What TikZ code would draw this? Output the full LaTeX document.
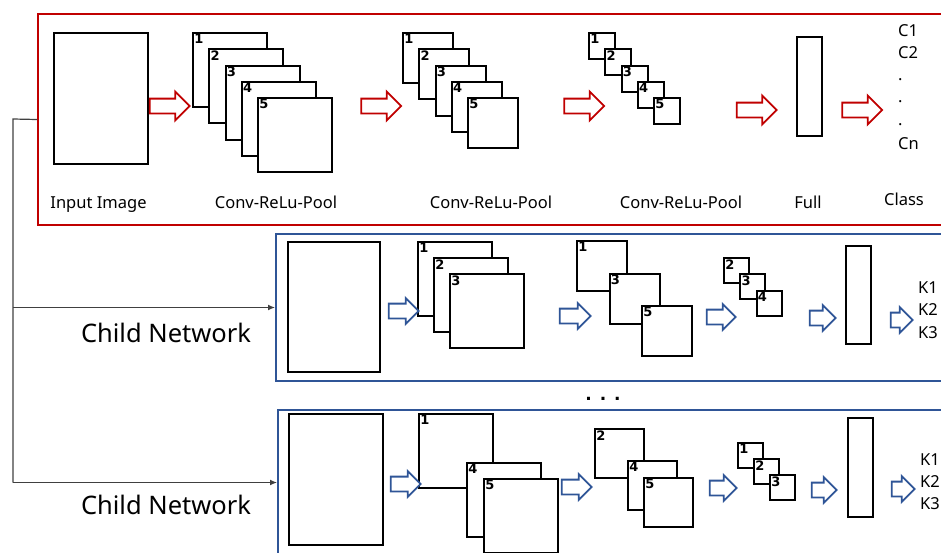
\documentclass[tikz,border=0pt]{standalone}
\usepackage{fontspec}
\setmainfont{Noto Sans}
\newfontfamily\numfont{DejaVu Sans}
\usetikzlibrary{shapes.arrows,arrows.meta}
\definecolor{netred}{RGB}{192,0,0}
\definecolor{netblue}{RGB}{47,85,151}
\definecolor{linkgray}{RGB}{64,64,64}
\newcommand{\fmfont}{\numfont\bfseries\fontsize{13}{13}\selectfont}
\begin{document}
\begin{tikzpicture}[x=1pt,y=-1pt,
	panel/.style={draw=#1, line width=2pt, rectangle, anchor=north west, inner sep=0pt},
	inimg/.style={draw, line width=2pt, rectangle, anchor=north west, inner sep=0pt, minimum width=94pt, minimum height=131pt},
	fullvec/.style={draw, line width=2pt, rectangle, anchor=north west, inner sep=0pt, minimum width=25pt, minimum height=99pt},
	fmnum/.style={anchor=north west, inner sep=2.2pt},
	fmap/.style 2 args={draw, fill=white, line width=2pt, rectangle, anchor=north west, inner sep=0pt, minimum size=#1, label={[fmnum]north west:\fmfont #2}},
	redarrow/.style={single arrow, draw=netred, fill=white, line width=1.8pt, inner xsep=0pt, inner ysep=6.5pt, minimum height=40pt, minimum width=28pt, single arrow head extend=7pt},
	bluearrow/.style={single arrow, draw=netblue, fill=white, line width=1.8pt, inner xsep=0pt, inner ysep=6.5pt, minimum height=#1, minimum width=24pt, single arrow head extend=5.5pt},
	lbl/.style={inner sep=0pt, font=\fontsize{16.5}{20}\selectfont},
	bigl/.style={inner sep=0pt, font=\fontsize{25.5}{30}\selectfont},
	link/.style={draw=linkgray, line width=1.2pt}]
	\useasboundingbox (0,0) rectangle (941,552);
	\clip (0,0) rectangle (941,552);

	% panels
	\node[panel=netred, minimum width=960pt, minimum height=211pt] (main) at (37,13) {};
	\node[panel=netblue, minimum width=720pt, minimum height=147pt] (child1) at (275,233) {};
	\node[panel=netblue, minimum width=720pt, minimum height=145pt] (child2) at (277,409) {};

	% parent network
	\node[inimg] (img) at (53,32) {};
	\foreach \i in {1,...,5}
		\node[fmap={74pt}{\i}] (pa\i) at ({192+16.25*(\i-1)},{32+16.25*(\i-1)}) {};
	\foreach \i in {1,...,5}
		\node[fmap={50pt}{\i}] (pb\i) at ({402+16.25*(\i-1)},{32+16.25*(\i-1)}) {};
	\foreach \i in {1,...,5}
		\node[fmap={26pt}{\i}] (pc\i) at ({588+16.25*(\i-1)},{32+16.25*(\i-1)}) {};
	\node[fullvec] (full) at (796,36) {};
	\node[redarrow] (ra1) at (166,106) {};
	\node[redarrow] (ra2) at (377.5,106) {};
	\node[redarrow] (ra3) at (580.5,106) {};
	\node[redarrow] (ra4) at (753,110) {};
	\node[redarrow] (ra5) at (858.5,110) {};
	\foreach \t/\yy [count=\k] in {C1/36, C2/58, ./80.5, ./102.5, ./125.5, Cn/149}
		\node[lbl, anchor=base west] (cls\k) at (898,\yy) {\t};
	\node[lbl, anchor=base] (limg) at (98.5,208) {Input Image};
	\node[lbl, anchor=base] (lpa) at (276,208) {Conv-ReLu-Pool};
	\node[lbl, anchor=base] (lpb) at (491,208) {Conv-ReLu-Pool};
	\node[lbl, anchor=base] (lpc) at (681,208) {Conv-ReLu-Pool};
	\node[lbl, anchor=base] (lfull) at (808,208) {Full};
	\node[lbl, anchor=base] (lcls) at (904,205) {Class};

	% first child
	\node[inimg, minimum width=92pt, minimum height=130pt] (img1) at (287,241) {};
	\foreach \i/\n in {0/1, 1/2, 2/3}
		\node[fmap={74pt}{\n}] (qa\n) at ({417+16*\i},{241+16*\i}) {};
	\foreach \i/\n in {0/1, 1/3, 2/5}
		\node[fmap={50pt}{\n}] (qb\n) at ({576+32.5*\i},{240+32.5*\i}) {};
	\foreach \i/\n in {0/2, 1/3, 2/4}
		\node[fmap={25pt}{\n}] (qc\n) at ({723+16.25*\i},{257+16.25*\i}) {};
	\node[fullvec, minimum height=98pt] (full1) at (845,245) {};
	\node[bluearrow=30pt] (ba1) at (400,311) {};
	\node[bluearrow=31pt] (ba2) at (571.5,316) {};
	\node[bluearrow=29pt] (ba3) at (717.5,317) {};
	\node[bluearrow=26pt] (ba4) at (819,318) {};
	\node[bluearrow=22pt] (ba5) at (898,320) {};
	\node[lbl, anchor=base west] (k11) at (918,293) {K1};
	\node[lbl, anchor=base west] (k12) at (918,315.5) {K2};
	\node[lbl, anchor=base west] (k13) at (918,338) {K3};
	\node[bigl, anchor=base] (cn1) at (166,342) {Child Network};

	\node[inner sep=0pt, font=\numfont\bfseries\fontsize{17}{20}\selectfont, anchor=base] (more) at (603,400) {. . .};

	% second child
	\node[inimg] (img2) at (288,413) {};
	\node[fmap={74pt}{1}] (rs1) at (418,413) {};
	\node[fmap={74pt}{4}] (rs4) at (466,462) {};
	\node[fmap={74pt}{5}] (rs5) at (483,478) {};
	\node[fmap={49pt}{2}] (rb2) at (594,428) {};
	\node[fmap={49pt}{4}] (rb4) at (627,460) {};
	\node[fmap={49pt}{5}] (rb5) at (643,477) {};
	\foreach \i/\n in {0/1, 1/2, 2/3}
		\node[fmap={25pt}{\n}] (rc\n) at ({737+16*\i},{442+16*\i}) {};
	\node[fullvec] (full2) at (847,417) {};
	\node[bluearrow=30pt] (bb1) at (402,484) {};
	\node[bluearrow=30pt] (bb2) at (573,487) {};
	\node[bluearrow=27pt] (bb3) at (719.5,488) {};
	\node[bluearrow=25pt] (bb4) at (820.5,490) {};
	\node[bluearrow=23pt] (bb5) at (899.5,489) {};
	\node[lbl, anchor=base west] (k21) at (920,465) {K1};
	\node[lbl, anchor=base west] (k22) at (920,487) {K2};
	\node[lbl, anchor=base west] (k23) at (920,509) {K3};
	\node[bigl, anchor=base] (cn2) at (166,514) {Child Network};

	% links
	\coordinate (trunk) at (13,119);
	\draw[link] (main.west) -- (trunk) -- (trunk |- child2.west);
	\draw[link, -{Latex[length=7pt,width=6pt]}] (trunk |- child1.west) -- (child1.west);
	\draw[link, -{Latex[length=7pt,width=6pt]}] (trunk |- child2.west) -- (child2.west);
\end{tikzpicture}
\end{document}
